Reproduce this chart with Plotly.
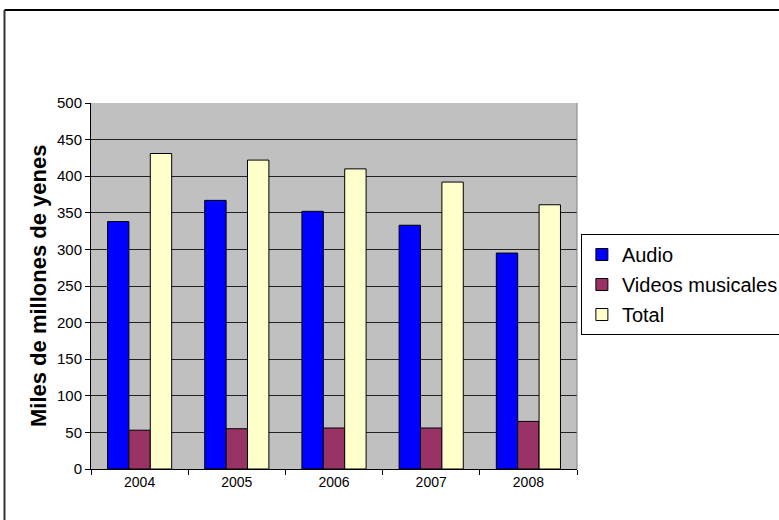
import plotly.graph_objects as go

years = ["2004", "2005", "2006", "2007", "2008"]
audio = [338, 367, 352, 333, 295]
videos = [53, 55, 56, 56, 65]
total = [431, 422, 410, 392, 361]
series_names = ["Audio", "Videos musicales", "Total"]
colors = ["#0000FF", "#993366", "#FFFFCC"]
y_ticks = [0, 50, 100, 150, 200, 250, 300, 350, 400, 450, 500]

fig = go.Figure()
for name, vals, col in zip(series_names, [audio, videos, total], colors):
    fig.add_trace(go.Bar(
        x=years, y=vals, name=name, legendgroup=name,
        marker=dict(color=col, line=dict(color="black", width=1)),
    ))

fig.update_layout(
    width=779, height=520,
    margin=dict(l=91, r=202, t=103, b=51, autoexpand=False),
    paper_bgcolor="white",
    plot_bgcolor="#C0C0C0",
    barmode="group", bargap=0.34, bargroupgap=0,
    font=dict(family="Liberation Sans, Arial, sans-serif", color="black"),
    showlegend=True,
    legend=dict(
        x=1.008, xanchor="left", y=0.642, yanchor="top",
        bgcolor="white", bordercolor="black", borderwidth=1,
        font=dict(size=20, color="black"),
        itemwidth=30, tracegroupgap=1,
    ),
    xaxis=dict(
        showline=True, linecolor="black", linewidth=1,
        ticks="outside", tickson="boundaries", ticklen=5, tickcolor="black",
        tickfont=dict(size=14), showgrid=False,
    ),
    yaxis=dict(
        range=[0, 500], tickvals=y_ticks,
        showline=True, linecolor="black", linewidth=1,
        ticks="outside", ticklen=5, tickcolor="black",
        tickfont=dict(size=15),
        showgrid=True, gridcolor="#222222", gridwidth=1, zeroline=False,
    ),
    annotations=[dict(
        text="<b>Miles de millones de yenes</b>", textangle=-90,
        xref="paper", yref="paper", x=-0.109, y=0.5,
        xanchor="center", yanchor="middle", showarrow=False,
        font=dict(size=22, color="black"),
    )],
    shapes=[
        dict(type="line", xref="paper", yref="paper", x0=-0.178, x1=1.5, y0=1.254, y1=1.254,
             line=dict(color="black", width=2)),
        dict(type="line", xref="paper", yref="paper", x0=-0.178, x1=-0.178, y0=-0.2, y1=1.254,
             line=dict(color="#333333", width=2)),
        dict(type="line", xref="paper", yref="paper", x0=1, x1=1, y0=0, y1=1,
             line=dict(color="#808080", width=1)),
    ],
)

fig.write_html("out.html")
